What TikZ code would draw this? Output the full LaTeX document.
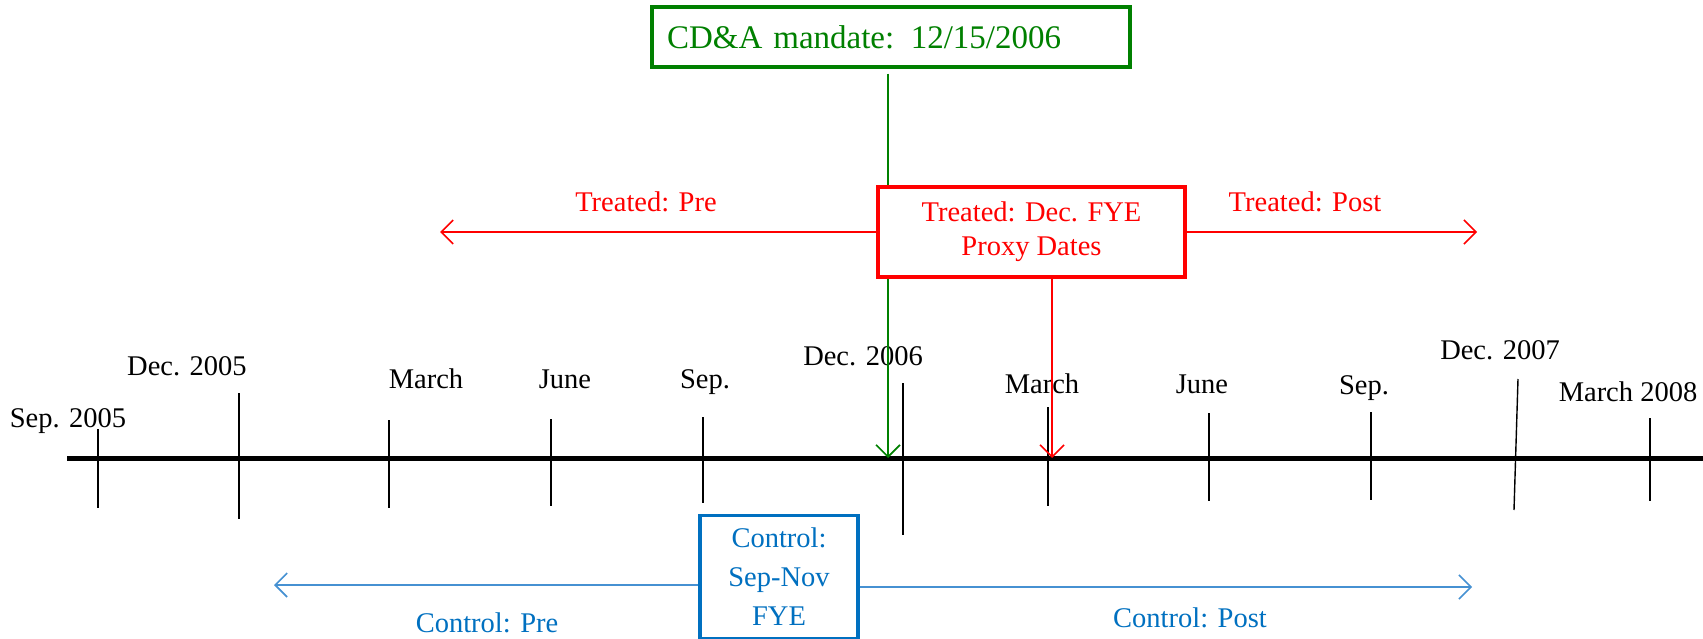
\documentclass[tikz,border=0pt]{standalone}
\usepackage{fontspec}
\setmainfont{Liberation Serif}
\usetikzlibrary{arrows.meta}
\definecolor{cgreen}{RGB}{0,128,0}
\definecolor{cred}{RGB}{255,0,0}
\definecolor{cblue}{RGB}{0,112,192}
\definecolor{cbluel}{RGB}{70,145,210}
\begin{document}
\begin{tikzpicture}[x=1pt,y=-1pt,
  tickline/.style={line width=1.4pt},
  lbl/.style={font=\fontsize{28.5}{30}\selectfont, inner sep=0pt},
  openhead/.style={-{Straight Barb[length=12pt,width=24pt,line width=1.6pt]}},
  boxbase/.style={line width=3.4pt, fill=white, inner sep=0pt}
]
\useasboundingbox (0,0) rectangle (1703,639);
% timeline
\coordinate (tl0) at (67,458);
\coordinate (tl1) at (1703,458);
\foreach \x/\a/\b in {98/429/508, 239/393/519, 389/420/508, 551/419/506, 703/417/503,
  903/383/535, 1048/407/506, 1209/413/501, 1371/412/500, 1650/418/501}
  \draw[tickline] (\x,\a) -- (\x,\b);
\draw[tickline] (1518,379) -- (1514,510);
\draw[line width=5pt] (tl0) -- (tl1);
% tick labels
\node[lbl] (l1) at (68,421) {Sep. 2005};
\node[lbl] (l2) at (187,366) {Dec. 2005};
\node[lbl] (l3) at (426,379) {March};
\node[lbl] (l4) at (565,379) {June};
\node[lbl] (l5) at (705,382) {Sep.};
\node[lbl] (l6) at (863,356) {Dec. 2006};
\node[lbl] (l7) at (1042,384) {March};
\node[lbl] (l8) at (1202,384) {June};
\node[lbl] (l9) at (1364,388) {Sep.};
\node[lbl] (l10) at (1500,350) {Dec. 2007};
\node[lbl] (l11) at (1628,392) {March 2008};
% green mandate
\node[boxbase, draw=cgreen, text=cgreen, minimum width=478pt, minimum height=60pt,
  text width=448pt, align=left, font=\fontsize{33}{36}\selectfont] (gbox) at (891,37)
  {CD\&A mandate: 12/15/2006};
\coordinate (gend) at (888,458);
\draw[cgreen, line width=2pt, openhead] ([yshift=-5pt]gbox.south -| gend) -- (gend);
% red treated
\node[boxbase, draw=cred, text=cred, minimum width=307pt, minimum height=90pt,
  align=center, font=\fontsize{28.5}{34}\selectfont] (rbox) at (1031.5,232)
  {\raisebox{-4pt}{Treated: Dec. FYE}\\\raisebox{-4pt}{Proxy Dates}};
\coordinate (rl) at (440,232);
\coordinate (rr) at (1477,232);
\draw[cred, line width=1.4pt, openhead] (rbox.west) -- (rl);
\draw[cred, line width=1.4pt, openhead] (rbox.east) -- (rr);
\coordinate (rend) at (1052,458);
\draw[cred, line width=1.4pt, openhead] (rbox.south -| rend) -- (rend);
\node[lbl, text=cred] (tpre) at (646,202) {Treated: Pre};
\node[lbl, text=cred] (tpost) at (1305,202) {Treated: Post};
% blue control
\node[boxbase, draw=cblue, text=cblue, minimum width=158pt, minimum height=123pt,
  align=center, font=\fontsize{28.5}{39}\selectfont] (bbox) at (779,577)
  {Control:\\Sep-Nov\\FYE};
\coordinate (bl) at (274,585);
\coordinate (br) at (1472,587);
\draw[cbluel, line width=1.4pt, openhead] (bbox.west |- bl) -- (bl);
\draw[cbluel, line width=1.4pt, openhead] (bbox.east |- br) -- (br);
\node[lbl, text=cblue] (cpre) at (487,623) {Control: Pre};
\node[lbl, text=cblue] (cpost) at (1190,618) {Control: Post};
\end{tikzpicture}
\end{document}
